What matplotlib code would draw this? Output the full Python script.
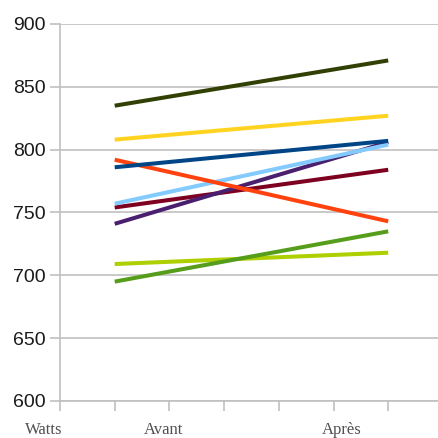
import matplotlib
matplotlib.use("Agg")
from matplotlib import pyplot as plt

# puissance (W) avant / après, une ligne par personne
avant = [709, 754, 741, 757, 695, 792, 786, 808, 835]
apres = [718, 784, 806, 804, 735, 743, 807, 827, 871]
couleurs = ["#aecf00", "#7e0021", "#4b1f6f", "#83caff", "#579d1c",
            "#ff420e", "#004586", "#ffd320", "#314004"]

x_labels = ["Watts", "Avant", "Après"]
x_label_pos = [-0.3, 1.9, 5.15]
y_ticks = [600, 650, 700, 750, 800, 850, 900]

fig = plt.figure(figsize=(4.38, 4.38), dpi=100)
ax = fig.add_axes([60 / 438, 37 / 438, 1 - 60 / 438, 377 / 438])

for a, p, c in zip(avant, apres, couleurs):
    ax.plot([1, 6], [a, p], color=c, lw=2.9, solid_capstyle="butt", zorder=3)

ax.set_ylim(600, 900)
ax.set_xlim(0, 378 / 54.7)
ax.set_yticks(y_ticks)
ax.set_xticks(range(7))
ax.set_xticklabels([])
ax.grid(axis="y", color="#c0c0c0", lw=1.2)
ax.set_axisbelow(True)

for s in ["top", "right"]:
    ax.spines[s].set_visible(False)
for s in ["left", "bottom"]:
    ax.spines[s].set_color("#c0c0c0")
    ax.spines[s].set_linewidth(1.2)
ax.tick_params(axis="both", color="#c0c0c0", width=1.2, length=7)
ax.tick_params(axis="y", labelsize=14, labelcolor="#1a1a1a", pad=3)
for t in ax.get_yticklabels():
    t.set_fontfamily("Liberation Sans")

for lab, xp in zip(x_labels, x_label_pos):
    ax.text(xp, -0.056, lab, transform=ax.get_xaxis_transform(),
            ha="center", va="top", fontsize=12, color="#505050",
            family="Liberation Serif")

fig.savefig("out.png", dpi=100)
